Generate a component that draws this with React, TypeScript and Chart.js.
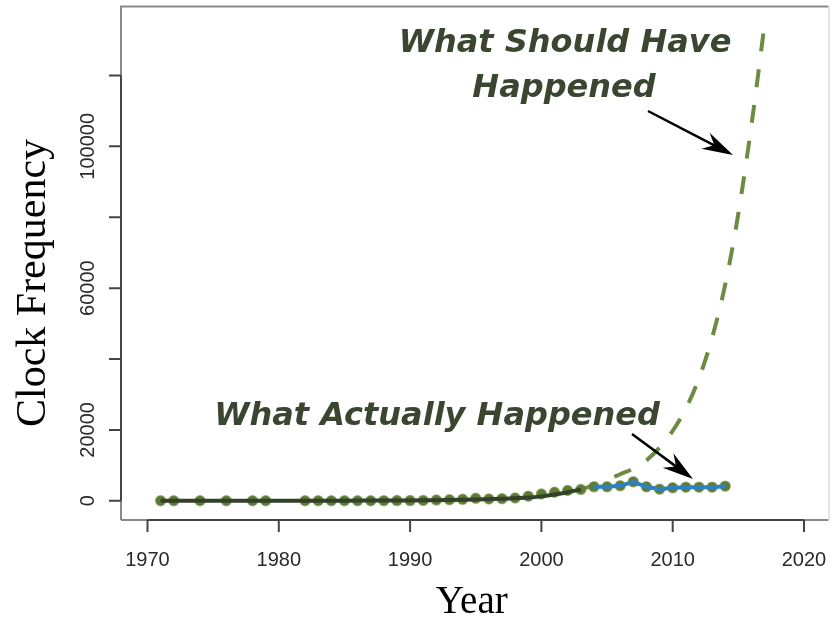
import React, { useEffect, useRef } from "react";
import { Chart, registerables } from "chart.js";

Chart.register(...registerables);

// Observed clock frequencies (dots)
const dotYears = [1971, 1972, 1974, 1976, 1978, 1979, 1982, 1983, 1984, 1985, 1986, 1987, 1988, 1989,
  1990, 1991, 1992, 1993, 1994, 1995, 1996, 1997, 1998, 1999, 2000, 2001, 2002, 2003,
  2004, 2005, 2006, 2007, 2008, 2009, 2010, 2011, 2012, 2013, 2014];
const dotValues = [1, 1, 2, 3, 5, 8, 12, 16, 16, 20, 25, 25, 33, 50,
  50, 100, 200, 300, 400, 700, 500, 600, 800, 1300, 1900, 2400, 2900, 3200,
  3940, 3940, 4220, 5340, 3940, 3280, 3660, 3850, 3850, 3850, 4130];

// Blue line: what actually happened after 2004
const actualYears = [2004, 2005, 2006, 2007, 2008, 2009, 2010, 2011, 2012, 2013, 2014];
const actualValues = [3940, 3940, 4220, 5340, 3940, 3280, 3660, 3850, 3850, 3850, 4130];

// Solid fitted trend over the observed era
const fitYears = [1971, 1975, 1980, 1985, 1990, 1993, 1995, 1997, 1999, 2000, 2001, 2002, 2003];
const fitValues = [1, 3, 12, 40, 90, 200, 350, 560, 900, 1250, 1750, 2400, 3200];

// Dashed projection: what should have happened
const projYears = [2003, 2004, 2005, 2006, 2007, 2008, 2009, 2010, 2011, 2012, 2013, 2014, 2015, 2016, 2017];
const projValues = [3200, 4400, 5900, 7500, 9100, 11400, 15000, 19700, 26000, 34500, 46000, 61000, 81000, 106000, 134500];

const xTicks = [1970, 1980, 1990, 2000, 2010, 2020];
const yTicks = [0, 20000, 40000, 60000, 80000, 100000, 120000];
const yTickLabels = ["0", "20000", "", "60000", "", "100000", ""];

const X_MIN = 1967.982;
const X_MAX = 2021.867;
const Y_MIN = -5419;
const Y_MAX = 139456;

const pts = (xs: number[], ys: number[]) => xs.map((x, i) => ({ x, y: ys[i] }));

function drawArrow(ctx: CanvasRenderingContext2D, x0: number, y0: number, x1: number, y1: number) {
  const dx = x1 - x0, dy = y1 - y0;
  const len = Math.hypot(dx, dy);
  const ux = dx / len, uy = dy / len;
  const nx = -uy, ny = ux;
  ctx.save();
  ctx.strokeStyle = "#000";
  ctx.fillStyle = "#000";
  ctx.lineWidth = 2.5;
  ctx.beginPath();
  ctx.moveTo(x0, y0);
  ctx.lineTo(x1 - ux * 20, y1 - uy * 20);
  ctx.stroke();
  const hl = 31, hw = 9, notch = 21;
  ctx.beginPath();
  ctx.moveTo(x1, y1);
  ctx.lineTo(x1 - ux * hl + nx * hw, y1 - uy * hl + ny * hw);
  ctx.lineTo(x1 - ux * notch, y1 - uy * notch);
  ctx.lineTo(x1 - ux * hl - nx * hw, y1 - uy * hl - ny * hw);
  ctx.closePath();
  ctx.fill();
  ctx.restore();
}

const framePlugin = {
  id: "rframe",
  afterDatasetsDraw(chart: any) {
    const ctx: CanvasRenderingContext2D = chart.ctx;
    const { left, right, top, bottom } = chart.chartArea;
    const xs = chart.scales.x;
    const ys = chart.scales.y;
    ctx.save();
    // box
    ctx.strokeStyle = "#8a8a8a";
    ctx.lineWidth = 2;
    ctx.beginPath();
    ctx.moveTo(left, bottom);
    ctx.lineTo(left, top);
    ctx.lineTo(right, top);
    ctx.stroke();
    ctx.beginPath();
    ctx.moveTo(left, bottom);
    ctx.lineTo(right, bottom);
    ctx.stroke();
    ctx.strokeStyle = "#cccccc";
    ctx.lineWidth = 1;
    ctx.beginPath();
    ctx.moveTo(right + 0.5, top);
    ctx.lineTo(right + 0.5, bottom);
    ctx.stroke();

    // axes
    ctx.strokeStyle = "#444";
    ctx.lineWidth = 2;
    const xa = xs.getPixelForValue(xTicks[0]);
    const xb = xs.getPixelForValue(xTicks[xTicks.length - 1]);
    ctx.beginPath();
    ctx.moveTo(xa, bottom);
    ctx.lineTo(xb, bottom);
    for (const t of xTicks) {
      const px = xs.getPixelForValue(t);
      ctx.moveTo(px, bottom);
      ctx.lineTo(px, bottom + 12);
    }
    ctx.stroke();
    const ya = ys.getPixelForValue(yTicks[0]);
    const yb = ys.getPixelForValue(yTicks[yTicks.length - 1]);
    ctx.beginPath();
    ctx.moveTo(left, ya);
    ctx.lineTo(left, yb);
    for (const t of yTicks) {
      const py = ys.getPixelForValue(t);
      ctx.moveTo(left, py);
      ctx.lineTo(left - 12, py);
    }
    ctx.stroke();

    // tick labels
    ctx.fillStyle = "#2a2a2a";
    ctx.font = '20px "Liberation Sans", Arial, sans-serif';
    ctx.textAlign = "center";
    ctx.textBaseline = "alphabetic";
    for (const t of xTicks) {
      ctx.fillText(String(t), xs.getPixelForValue(t), bottom + 46);
    }
    yTicks.forEach((t, i) => {
      const lab = yTickLabels[i];
      if (!lab) return;
      ctx.save();
      ctx.translate(left - 27.5, ys.getPixelForValue(t));
      ctx.rotate(-Math.PI / 2);
      ctx.fillText(lab, 0, 0);
      ctx.restore();
    });

    // axis titles
    ctx.fillStyle = "#000";
    ctx.font = '39px "Liberation Serif", "Times New Roman", serif';
    ctx.fillText("Year", (left + right) / 2 - 3, 613);
    ctx.save();
    ctx.translate(45, 283);
    ctx.rotate(-Math.PI / 2);
    ctx.font = '42px "Liberation Serif", "Times New Roman", serif';
    ctx.fillText("Clock Frequency", 0, 0);
    ctx.restore();

    // annotations
    ctx.fillStyle = "#3a4630";
    ctx.font = 'italic bold 32px "DejaVu Sans", sans-serif';
    ctx.fillText("What Should Have", 565, 52);
    ctx.fillText("Happened", 564, 97);
    ctx.fillText("What Actually Happened", 437, 425);
    ctx.restore();

    drawArrow(ctx, 648, 111, 733, 155);
    drawArrow(ctx, 632, 434, 693, 479);
  },
};

export default function App() {
  const ref = useRef<HTMLCanvasElement | null>(null);
  useEffect(() => {
    if (!ref.current) return;
    const chart = new Chart(ref.current, {
      type: "line",
      data: {
        datasets: [
          {
            label: "Should have",
            data: pts(projYears, projValues),
            borderColor: "#6d8b42",
            borderWidth: 4,
            borderDash: [18, 18],
            pointRadius: 0,
            cubicInterpolationMode: "monotone",
            fill: false,
            order: 4,
          },
          {
            label: "Observed",
            data: pts(dotYears, dotValues),
            showLine: false,
            pointRadius: 5,
            pointBackgroundColor: "#5d7b33",
            pointBorderColor: "rgba(110,140,70,0.6)",
            pointBorderWidth: 1.5,
            order: 3,
          },
          {
            label: "Trend",
            data: pts(fitYears, fitValues),
            borderColor: "#33402a",
            borderWidth: 4,
            pointRadius: 0,
            cubicInterpolationMode: "monotone",
            fill: false,
            order: 2,
          },
          {
            label: "Actual",
            data: pts(actualYears, actualValues),
            borderColor: "#2f80c2",
            borderWidth: 4,
            pointRadius: 0,
            fill: false,
            order: 1,
          },
        ],
      },
      options: {
        animation: false,
        responsive: true,
        maintainAspectRatio: false,
        layout: { padding: { left: 121, right: 1, top: 4, bottom: 98 } },
        plugins: { legend: { display: false }, tooltip: { enabled: false }, title: { display: false } },
        events: [],
        scales: {
          x: { type: "linear", min: X_MIN, max: X_MAX, display: false },
          y: { type: "linear", min: Y_MIN, max: Y_MAX, display: false },
        },
      },
      plugins: [framePlugin],
    });
    return () => chart.destroy();
  }, []);
  return (
    <div style={{ position: "fixed", left: 0, top: 0, width: 835, height: 618, background: "#fff" }}>
      <canvas ref={ref} />
    </div>
  );
}
